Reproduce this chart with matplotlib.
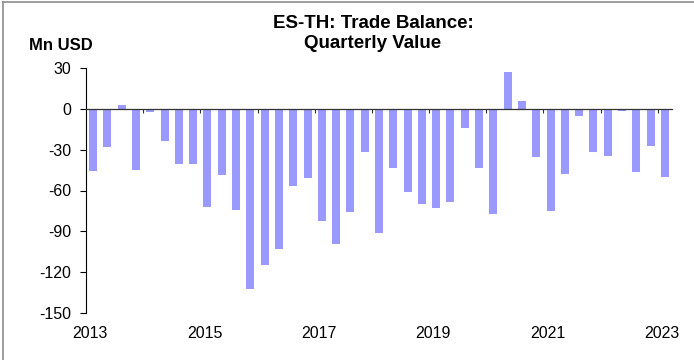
import matplotlib
matplotlib.use("Agg")
import matplotlib.pyplot as plt
from matplotlib.lines import Line2D
import numpy as np

plt.rcParams["font.family"] = ["Liberation Sans", "DejaVu Sans"]

# quarterly trade balance, 2013Q1 .. 2023Q1 (Mn USD)
quarters = [f"{y}Q{q}" for y in range(2013, 2024) for q in range(1, 5)][:41]
balance = [
    -45.5, -27.9, 2.7, -45.0,      # 2013
    -2.2, -23.5, -40.8, -40.3,     # 2014
    -72.1, -48.6, -74.5, -132.4,   # 2015
    -114.8, -103.3, -56.4, -51.1,  # 2016
    -82.3, -99.0, -75.5, -31.5,    # 2017
    -91.4, -43.7, -60.8, -70.1,    # 2018
    -73.0, -68.2, -13.9, -43.5,    # 2019
    -77.2, 27.4, 5.6, -35.7,       # 2020
    -74.8, -47.9, -4.9, -31.7,     # 2021
    -34.7, -1.9, -46.6, -27.3,     # 2022
    -49.8,                         # 2023
]
year_labels = ["2013", "2015", "2017", "2019", "2021", "2023"]
y_ticks = [30, 0, -30, -60, -90, -120, -150]

BAR_COLOR = "#9999ff"

fig = plt.figure(figsize=(6.94, 3.60), dpi=100)
ax = fig.add_axes([86 / 694, 47 / 360, 586 / 694, 245 / 360])

x = np.arange(len(balance))
ax.bar(x, balance, width=0.56, color=BAR_COLOR, linewidth=0, zorder=2)

ax.set_xlim(-0.5, len(balance) - 0.5)
ax.set_ylim(-150, 30)
ax.set_yticks(y_ticks)
ax.set_yticklabels([str(v) for v in y_ticks])
ax.tick_params(axis="y", direction="out", length=4.3, width=0.8, pad=6.5,
               labelsize=11.5, colors="black")

# category axis sits on zero, tick marks between years
ax.spines["bottom"].set_position(("data", 0))
ax.spines["bottom"].set_color("#333333")
ax.spines["bottom"].set_linewidth(0.9)
ax.spines["bottom"].set_zorder(3)
ax.spines["top"].set_visible(False)
ax.spines["right"].set_visible(False)
ax.spines["left"].set_linewidth(0.8)
ax.set_xticks(np.arange(3.5, len(balance) - 1, 4))
ax.tick_params(axis="x", direction="out", length=3, width=0.8,
               labelbottom=False, color="#333333")

# year labels along the bottom of the plot area
sec = ax.secondary_xaxis("bottom")
sec.set_xticks(x[::8] - 0.2)
sec.set_xticklabels(year_labels)
sec.tick_params(length=0, pad=9, labelsize=11.5)
sec.spines["bottom"].set_visible(False)

fig.text(373 / 694, 1 - 23 / 360, "ES-TH: Trade Balance:", ha="center", va="center",
         fontsize=13.5, fontweight="bold")
fig.text(373 / 694, 1 - 43.5 / 360, "Quarterly Value", ha="center", va="center",
         fontsize=13.5, fontweight="bold")
fig.text(61 / 694, 1 - 46 / 360, "Mn USD", ha="center", va="center",
         fontsize=12, fontweight="bold")

# chart frame (left and top edges)
fig.add_artist(Line2D([3.3 / 694, 3.3 / 694], [0, 1 - 1.5 / 360],
                      transform=fig.transFigure, color="#8c8c8c", lw=1.2))
fig.add_artist(Line2D([3.3 / 694, 1], [1 - 1.5 / 360, 1 - 1.5 / 360],
                      transform=fig.transFigure, color="#8c8c8c", lw=1.2))

fig.savefig("out.png", dpi=100)
